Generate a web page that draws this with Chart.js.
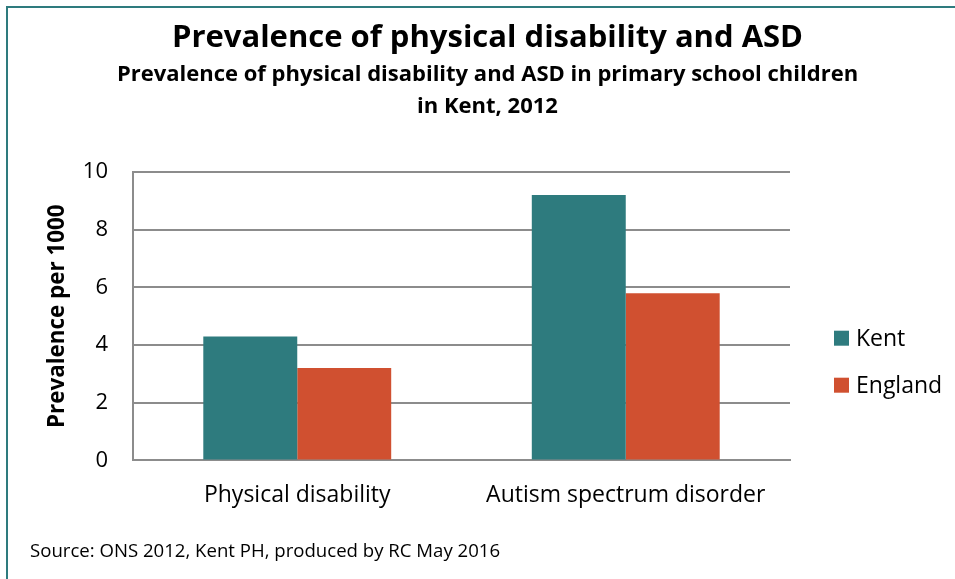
<!DOCTYPE html>
<html>
<head>
<meta charset="utf-8">
<script src="https://cdn.jsdelivr.net/npm/chart.js@4"></script>
<style>
  html, body { margin: 0; padding: 0; background: #fff; }
  #wrap { position: relative; width: 955px; height: 579px; overflow: hidden; }
  #frame { position: absolute; left: 6px; top: 6px; width: 1000px; height: 700px;
           border-left: 2px solid #2E7B7E; border-top: 2px solid #2E7B7E; pointer-events: none; }
  #c { position: absolute; left: -5px; top: 0; }
  #source { position: absolute; left: 30px; top: 537px; font: 18.6px "Open Sans", sans-serif; color: #000; }
</style>
</head>
<body>
<div id="wrap">
  <canvas id="c" width="970" height="530"></canvas>
  <div id="frame"></div>
  <div id="source">Source: ONS 2012, Kent PH, produced by RC May 2016</div>
</div>
<script>
const categories = ["Physical disability", "Autism spectrum disorder"];
const kentValues = [4.3, 9.2];
const englandValues = [3.2, 5.8];
const seriesNames = ["Kent", "England"];

const FONT = "'Open Sans', sans-serif";

// legend to the right of the plot, a bit below its middle
const sideLegend = {
    id: "sideLegend",
    afterDraw(chart) {
        const c = chart.ctx;
        const area = chart.chartArea;
        const x = area.right + 44;
        let y = (area.top + area.bottom) / 2 + 22;
        c.save();
        c.font = "23px " + FONT;
        c.textBaseline = "middle";
        c.textAlign = "left";
        chart.data.datasets.forEach((ds) => {
            c.fillStyle = ds.backgroundColor;
            c.fillRect(x, y - 7.5, 15, 15);
            c.fillStyle = "#000";
            c.fillText(ds.label, x + 22, y + 1);
            y += 47;
        });
        c.restore();
    },
};

const ctx = document.getElementById("c");
new Chart(ctx, {
    type: "bar",
    data: {
        labels: categories,
        datasets: [
            {
                label: seriesNames[0],
                data: kentValues,
                backgroundColor: "#2E7B7E",
            },
            {
                label: seriesNames[1],
                data: englandValues,
                backgroundColor: "#D05030",
            },
        ],
    },
    options: {
        responsive: false,
        animation: false,
        layout: { padding: { left: 25, right: 10, top: 10, bottom: 0 } },
        datasets: {
            bar: { categoryPercentage: 0.572, barPercentage: 1.0 },
        },
        scales: {
            x: {
                grid: { display: false, drawTicks: false },
                border: { display: true, color: "#8c8c8c", width: 2 },
                ticks: { color: "#000", font: { family: FONT, size: 23 }, padding: 21 },
            },
            y: {
                min: 0,
                max: 10,
                ticks: { stepSize: 2, color: "#000", font: { family: FONT, size: 22 }, padding: 25 },
                grid: { color: "#8c8c8c", lineWidth: 2, drawTicks: false },
                border: { display: true, color: "#8c8c8c", width: 2 },
                title: {
                    display: true,
                    text: "Prevalence per 1000",
                    color: "#000",
                    font: { family: FONT, size: 22.4, weight: "bold" },
                    padding: { top: 24, bottom: 0 },
                },
                afterFit(scale) {
                    scale.width = 113;
                },
            },
            // empty room on the right for the legend
            gap: {
                type: "linear",
                position: "right",
                display: true,
                grid: { display: false, drawTicks: false },
                border: { display: false },
                ticks: { display: false },
                afterFit(scale) {
                    scale.width = 165;
                },
            },
        },
        plugins: {
            title: {
                display: true,
                text: "Prevalence of physical disability and ASD",
                color: "#000",
                font: { family: FONT, size: 31, weight: "bold" },
                padding: { top: 10, bottom: 2 },
            },
            subtitle: {
                display: true,
                text: ["Prevalence of physical disability and ASD in primary school children", "in Kent, 2012"],
                color: "#000",
                font: { family: FONT, size: 22, weight: "bold", lineHeight: 1.45 },
                padding: { top: 0, bottom: 49 },
            },
            legend: { display: false },
            tooltip: { enabled: false },
        },
    },
    plugins: [sideLegend],
});
</script>
</body>
</html>
